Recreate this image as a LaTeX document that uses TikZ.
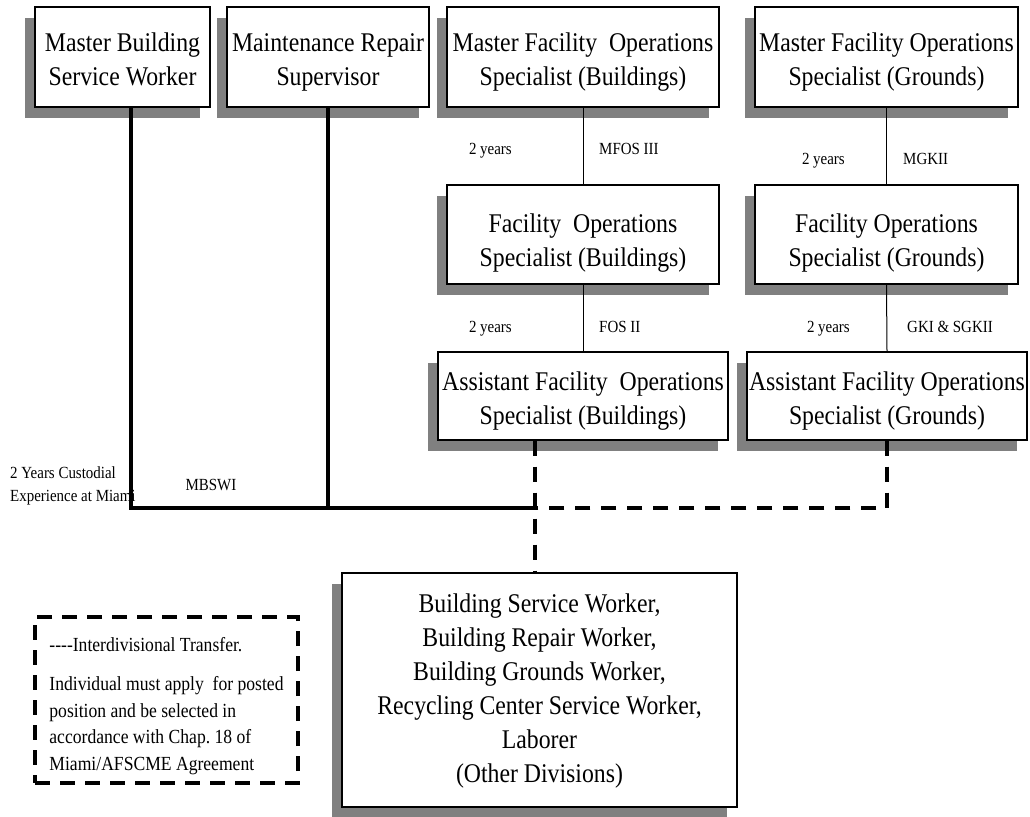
\documentclass[tikz,border=0pt]{standalone}
\usepackage{fontspec}
\setmainfont{Liberation Serif}[FakeStretch=0.88]
\usetikzlibrary{shadows}
\definecolor{LadderShadow}{HTML}{808080}
\newcommand\cardtop[1][33pt]{\rule{0pt}{#1}}

\begin{document}
\begin{tikzpicture}[
    x=1pt,y=-1pt,
    every node/.style={inner sep=0pt},
    post/.style={draw,line width=1.2pt,fill=white,align=center,
      font=\fontsize{27}{34}\selectfont,execute at end node=\strut,
      drop shadow={shadow xshift=-10pt,shadow yshift=-11pt,fill=LadderShadow,opacity=1}},
    note/.style={font=\fontsize{17}{23}\selectfont},
    rung/.style={line width=1pt},
    trunk/.style={line width=4pt},
    transfer/.style={line width=4pt,dash pattern=on 15pt off 11pt}
  ]
  \useasboundingbox (0,0) rectangle (1030,816);

  \node[post,minimum width=175pt,minimum height=100pt] (mbsw) at (122.5,57) {\cardtop Master Building\\Service Worker};
  \node[post,minimum width=202pt,minimum height=100pt] (mrs) at (328,57) {\cardtop Maintenance Repair\\Supervisor};
  \node[post,minimum width=272pt,minimum height=100pt] (mfosb) at (583,57) {\cardtop Master Facility\ \ Operations\\Specialist (Buildings)};
  \node[post,minimum width=263pt,minimum height=100pt] (mfosg) at (886.5,57) {\cardtop Master Facility Operations\\Specialist (Grounds)};
  \node[post,minimum width=272pt,minimum height=99pt] (fosb) at (583,234.5) {\cardtop[41pt]Facility\ \ Operations\\Specialist (Buildings)};
  \node[post,minimum width=263pt,minimum height=99pt] (fosg) at (886.5,234.5) {\cardtop[41pt]Facility Operations\\Specialist (Grounds)};
  \node[post,minimum width=290pt,minimum height=88pt] (afosb) at (583,396) {\cardtop Assistant Facility\ \ Operations\\Specialist (Buildings)};
  \node[post,minimum width=280pt,minimum height=88pt] (afosg) at (887,396) {\cardtop Assistant Facility Operations\\Specialist (Grounds)};
  \node[post,minimum width=395pt,minimum height=234pt] (others) at (539.5,690)
    {\cardtop[26pt]Building Service Worker,\\Building Repair Worker,\\Building Grounds Worker,\\Recycling Center Service Worker,\\Laborer\\(Other Divisions)};

  \node[draw,line width=4pt,dash pattern=on 15pt off 10pt,minimum width=263pt,minimum height=166pt,
    align=left,font=\fontsize{20}{26.5}\selectfont] (legend) at (166.5,700)
    {\cardtop[26pt]-{}-{}-{}-Interdivisional Transfer.\\[13pt]Individual must apply\ \ for posted\\position and be selected in\\accordance with Chap.\ 18 of\\Miami/AFSCME Agreement};

  \node[note,anchor=base east] (yrsb1) at (512,154.5) {2 years};
  \node[note,anchor=base west] (mfos3) at (599,154.5) {MFOS III};
  \node[note,anchor=base east] (yrsg1) at (845,164.5) {2 years};
  \node[note,anchor=base west] (mgk2) at (903,164.5) {MGKII};
  \node[note,anchor=base east] (yrsb2) at (512,332.5) {2 years};
  \node[note,anchor=base west] (fos2) at (599,332.5) {FOS II};
  \node[note,anchor=base east] (yrsg2) at (850,332.5) {2 years};
  \node[note,anchor=base west] (gk) at (907,332.5) {GKI \& SGKII};
  \node[note,anchor=west,align=left] (custodial) at (10,486) {2 Years Custodial\\Experience at Miami};
  \node[note] (mbswi) at (211,485) {MBSWI};

  \draw[rung] (mfosb.south) -- (fosb.north);
  \draw[rung] (fosb.south) -- (afosb.north);
  \draw[rung] (mfosg.south) -- (fosg.north);
  \draw[rung] (fosg.south) -- (afosg.north);

  \coordinate (tap) at (535,508);
  \draw[trunk] ([xshift=8.5pt]mbsw.south) |- (tap);
  \draw[trunk] (mrs.south) -- (mrs.south |- tap);
  \draw[transfer] (afosb.south -| tap) -- (others.north -| tap);
  \draw[transfer] (afosg.south) |- (tap);
\end{tikzpicture}
\end{document}
